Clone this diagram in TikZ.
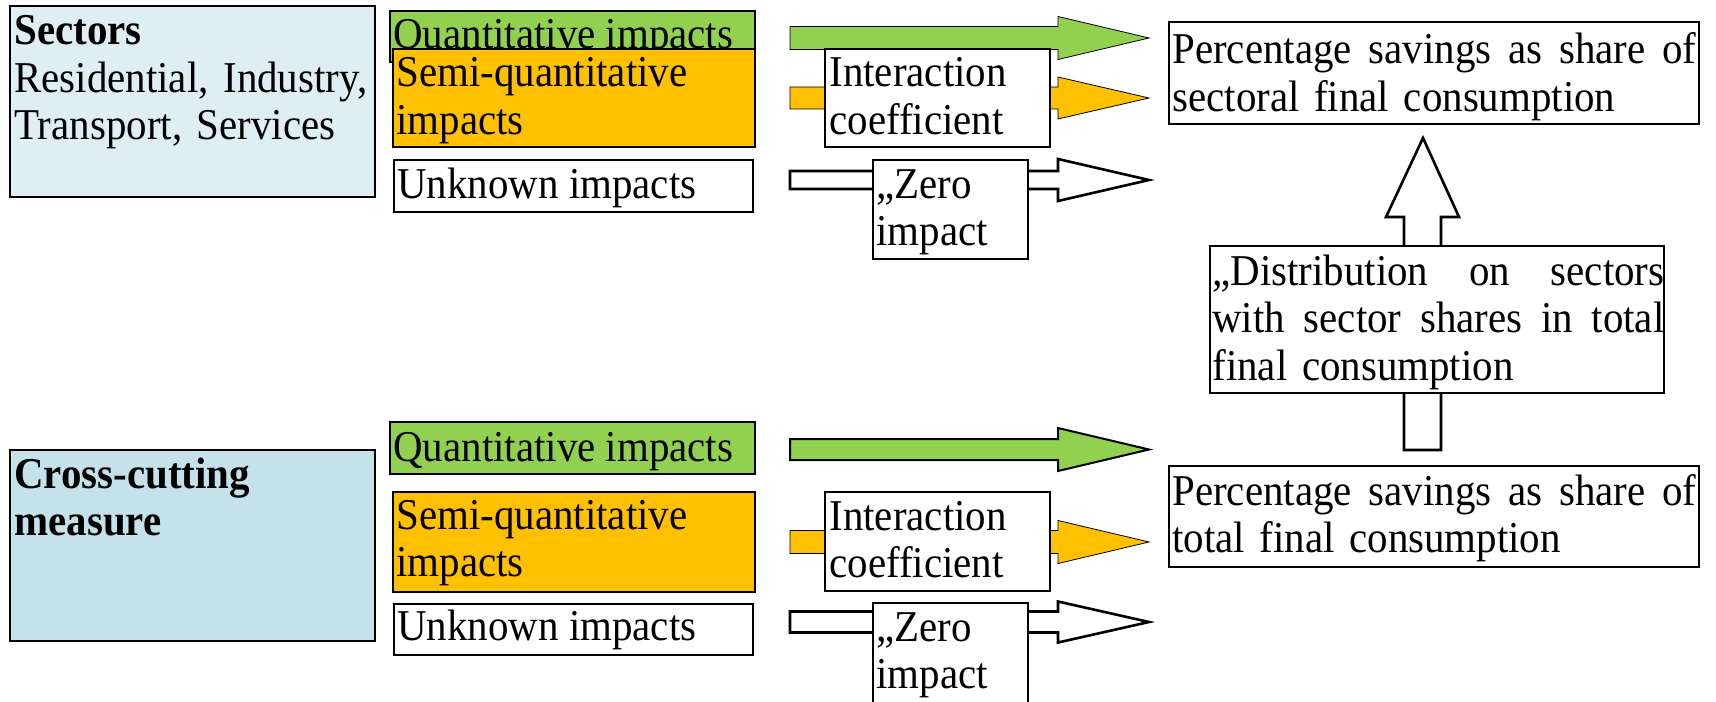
\documentclass[tikz,border=0pt]{standalone}
\usepackage{fontspec}
\setmainfont{Liberation Serif}[FakeStretch=0.93]
\usetikzlibrary{fit}
\definecolor{secblue}{HTML}{DEEEF3}
\definecolor{ccblue}{HTML}{C5E1EA}
\definecolor{qgreen}{HTML}{92D050}
\definecolor{sorange}{HTML}{FFC000}
\newcommand\fs{\fontsize{22}{23.75}\selectfont}
% #1 style, #2 x start, #3 y centre, #4 shaft half width, #5 head half width
\newcommand\hblock[5]{%
  \draw[#1] (#2,#3-#4) -- (1058,#3-#4) -- (1058,#3-#5) -- (1149,#3)
    -- (1058,#3+#5) -- (1058,#3+#4) -- (#2,#3+#4) -- cycle;}
\begin{document}
\begin{tikzpicture}[x=0.5pt,y=-0.5pt,
  box/.style={draw, line width=1.3pt, inner sep=0pt},
  txt/.style={anchor=base west, inner sep=0pt, font=\fs, align=left},
  gblock/.style={fill=qgreen},
  gblockb/.style={fill=qgreen, draw=black, line width=1pt},
  oblock/.style={fill=sorange},
  wblock/.style={draw, fill=white, line width=1.3pt}]
\useasboundingbox (0,0) rectangle (1716,701);

% ---------- block arrows (drawn first, boxes cover them) ----------
\hblock{gblock}{790}{38}{11.5}{21.5}
\hblock{oblock}{790}{98}{11}{21}
\hblock{wblock}{790}{180}{9}{21}
\hblock{gblockb}{790}{449.5}{10.5}{21.5}
\hblock{oblock}{790}{542}{11.5}{21.5}
\hblock{wblock}{790}{622}{10.5}{20.5}
\draw[wblock] (1404,450) -- (1404,217) -- (1386,217) -- (1423,138)
  -- (1459,217) -- (1441,217) -- (1441,450) -- cycle;

% ---------- top section ----------
\node[box, fill=secblue, fit={(10,6) (375,197)}] (sect) {};
\node[txt, text width=180pt] (sectT) at (14,45)
  {\textbf{Sectors}\\Residential, Industry,\\Transport, Services};

\node[box, fill=qgreen, fit={(390,11) (755,62)}] (qt1) {};
\node[txt] (qt1T) at (393,49) {Quantitative impacts};
\node[box, fill=sorange, fit={(393,49) (755,147)}] (sq1) {};
\node[txt, text width=175pt] (sq1T) at (396,87) {Semi-quantitative\\impacts};
\node[box, fill=white, fit={(394,160) (753,212)}] (uk1) {};
\node[txt] (uk1T) at (397,198) {Unknown impacts};

\node[box, fill=white, fit={(825,49) (1050,147)}] (ic1) {};
\node[txt, text width=110pt] (ic1T) at (829,87) {Interaction\\coefficient};
\node[box, fill=white, fit={(873,160) (1028,259)}] (zi1) {};
\node[txt, text width=75pt] (zi1T) at (876,198) {„Zero\\impact};

\node[box, fill=white, fit={(1169,22) (1699,124)}] (ps1) {};
\node[txt, text width=262pt] (ps1T) at (1172,64)
  {\makebox[262pt][l]{Percentage\hfill savings\hfill as\hfill share\hfill of}\\sectoral final consumption};

\node[box, fill=white, fit={(1210,246) (1664,393)}] (dist) {};
\node[txt, text width=226pt] (distT) at (1212,285)
  {\makebox[226pt][l]{„Distribution\hfill on\hfill sectors}\\\makebox[226pt][l]{with\hfill sector\hfill shares\hfill in\hfill total}\\final consumption};

% ---------- bottom section ----------
\node[box, fill=ccblue, fit={(10,450) (375,641)}] (cc) {};
\node[txt, text width=180pt] (ccT) at (14,488) {\textbf{Cross-cutting}\\\textbf{measure}};

\node[box, fill=qgreen, fit={(390,422) (755,474)}] (qt2) {};
\node[txt] (qt2T) at (393,461) {Quantitative impacts};
\node[box, fill=sorange, fit={(393,492) (755,592)}] (sq2) {};
\node[txt, text width=175pt] (sq2T) at (396,529) {Semi-quantitative\\impacts};
\node[box, fill=white, fit={(394,604) (753,655)}] (uk2) {};
\node[txt] (uk2T) at (397,640) {Unknown impacts};

\node[box, fill=white, fit={(825,492) (1050,591)}] (ic2) {};
\node[txt, text width=110pt] (ic2T) at (829,530) {Interaction\\coefficient};
\node[box, fill=white, fit={(873,603) (1028,730)}] (zi2) {};
\node[txt, text width=75pt] (zi2T) at (876,641) {„Zero\\impact};

\node[box, fill=white, fit={(1169,466) (1699,567)}] (ps2) {};
\node[txt, text width=262pt] (ps2T) at (1172,505)
  {\makebox[262pt][l]{Percentage\hfill savings\hfill as\hfill share\hfill of}\\total final consumption};
\end{tikzpicture}
\end{document}
